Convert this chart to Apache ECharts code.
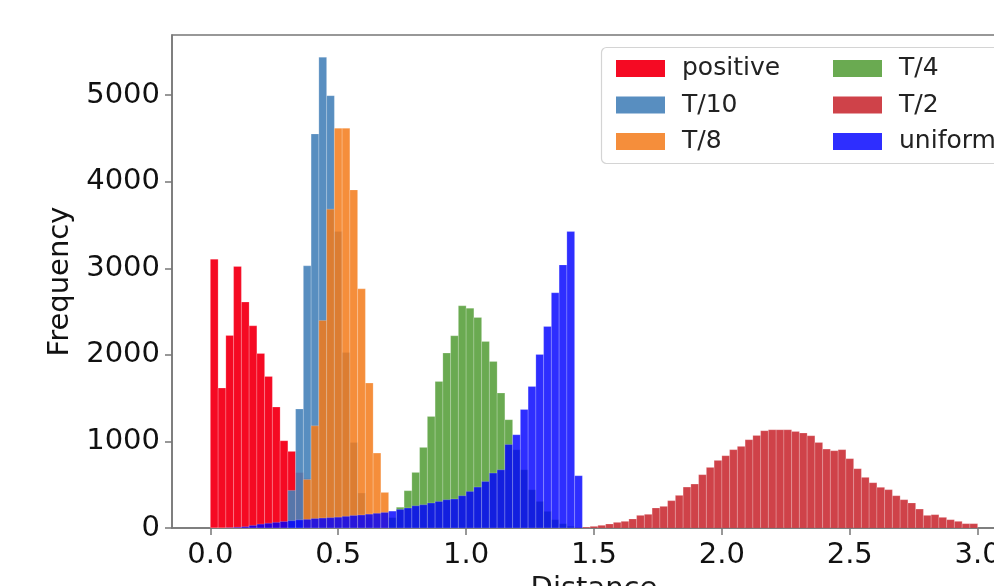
<!DOCTYPE html>
<html>
<head>
<meta charset="utf-8">
<script src="https://cdn.jsdelivr.net/npm/echarts@6/dist/echarts.min.js"></script>
<style>
html,body{margin:0;padding:0;background:#fff;}
#chart{width:994px;height:586px;}
</style>
</head>
<body>
<div id="chart"></div>
<script>
// Shared histogram bin width (99 bins over [0, 3])
const BIN_W = 3 / 99;

const seriesNames = ['positive', 'T/10', 'T/8', 'T/4', 'T/2', 'uniform'];

// first bin index of each series, and counts per bin
const positiveStart = 0;
const positive = [3106, 1617, 2224, 3021, 2610, 2336, 2016, 1751, 1397, 1008, 885, 640, 570];

const t10Start = 10;
const t10 = [434, 1375, 3029, 4553, 5439, 4995, 3425, 2028, 989, 404, 120];

const t8Start = 12;
const t8 = [560, 1181, 2397, 3683, 4619, 4619, 3906, 2763, 1674, 866, 411];

const t4Start = 23;
const t4 = [120, 240, 431, 642, 931, 1289, 1693, 2021, 2221, 2567, 2540, 2432, 2155, 1924, 1559, 1251, 904, 673, 442, 307, 192, 96, 50, 20];

const t2Start = 47;
const t2 = [5, 10, 19, 31, 46, 65, 77, 104, 146, 158, 231, 250, 316, 377, 473, 508, 616, 700, 781, 835, 905, 943, 1020, 1070, 1124, 1135, 1135, 1135, 1116, 1097, 1066, 989, 912, 893, 905, 801, 685, 585, 523, 470, 443, 373, 327, 289, 219, 146, 154, 123, 96, 77, 50, 50];

const uniformStart = 0;
const uniform = [0, 0, 3, 8, 15, 30, 45, 55, 65, 75, 85, 95, 100, 110, 115, 120, 125, 135, 145, 150, 160, 170, 180, 195, 215, 231, 257, 269, 289, 307, 327, 335, 373, 423, 473, 538, 635, 673, 965, 1077, 1370, 1635, 2005, 2328, 2718, 3040, 3425, 604];

const xTicks = [0, 0.5, 1.0, 1.5, 2.0, 2.5, 3.0];
const yTicks = [0, 1000, 2000, 3000, 4000, 5000];

const colors = {
  'positive': 'rgba(245,10,35,1)',
  'T/10': 'rgba(70,130,185,0.9)',
  'T/8': 'rgba(243,122,25,0.85)',
  'T/4': 'rgba(80,155,50,0.85)',
  'T/2': 'rgba(200,40,48,0.88)',
  'uniform': 'rgba(0,0,255,0.82)'
};

function toRows(start, counts) {
  return counts.map((c, i) => [(start + i) * BIN_W, (start + i + 1) * BIN_W, c]);
}

const seriesData = {
  'positive': toRows(positiveStart, positive),
  'T/10': toRows(t10Start, t10),
  'T/8': toRows(t8Start, t8),
  'T/4': toRows(t4Start, t4),
  'T/2': toRows(t2Start, t2),
  'uniform': toRows(uniformStart, uniform)
};

function renderBar(params, api) {
  const p0 = api.coord([api.value(0), api.value(2)]);
  const p1 = api.coord([api.value(1), 0]);
  return {
    type: 'rect',
    shape: { x: p0[0], y: p0[1], width: p1[0] - p0[0], height: p1[1] - p0[1] },
    style: {
      fill: api.visual('color'),
      stroke: 'rgba(255,255,255,0.28)',
      lineWidth: 0.7
    }
  };
}

const FONT = 'DejaVu Sans';
const chart = echarts.init(document.getElementById('chart'), null, { renderer: 'canvas' });

const legendCommon = {
  orient: 'vertical',
  icon: 'rect',
  itemWidth: 49,
  itemHeight: 17,
  itemGap: 11.5,
  top: 51,
  z: 5,
  textStyle: { fontFamily: FONT, fontSize: 25, color: '#222', padding: [0, 0, 0, 12] },
  selectedMode: false
};

chart.setOption({
  animation: false,
  backgroundColor: '#fff',
  grid: {
    left: 172, top: 35, width: 844, height: 493,
    containLabel: false, outerBoundsMode: 'none',
    show: true, borderColor: '#777', borderWidth: 1.5, backgroundColor: 'transparent'
  },
  graphic: [{
    type: 'rect', z: 4,
    shape: { x: 601.5, y: 47.5, width: 430, height: 116, r: 5 },
    style: { fill: 'rgba(255,255,255,0.8)', stroke: '#d4d4d4', lineWidth: 1.2 }
  }],
  legend: [
    Object.assign({}, legendCommon, { left: 611, data: ['positive', 'T/10', 'T/8'] }),
    Object.assign({}, legendCommon, { left: 828, data: ['T/4', 'T/2', 'uniform'] })
  ],
  xAxis: {
    type: 'value', min: -0.15, max: 3.15,
    name: 'Distance', nameLocation: 'middle', nameGap: 40,
    nameTextStyle: { fontFamily: FONT, fontSize: 29, color: '#1a1a1a' },
    axisLine: { show: true, onZero: false, lineStyle: { color: '#777', width: 1.5 } },
    axisTick: { show: true, customValues: xTicks, length: 7, lineStyle: { color: '#777', width: 1.5 } },
    axisLabel: { customValues: xTicks, margin: 13, fontFamily: FONT, fontSize: 29, color: '#111',
      formatter: v => v.toFixed(1) },
    splitLine: { show: false }
  },
  yAxis: {
    type: 'value', min: 0, max: 5696,
    name: 'Frequency', nameLocation: 'middle', nameGap: 93, nameRotate: 90,
    nameTextStyle: { fontFamily: FONT, fontSize: 29, color: '#111' },
    axisLine: { show: true, onZero: false, lineStyle: { color: '#777', width: 1.5 } },
    axisTick: { show: true, customValues: yTicks, length: 7, lineStyle: { color: '#777', width: 1.5 } },
    axisLabel: { customValues: yTicks, margin: 12, fontFamily: FONT, fontSize: 29, color: '#111',
      formatter: v => String(v) },
    splitLine: { show: false }
  },
  series: seriesNames.map((name, k) => ({
    name: name,
    type: 'custom',
    renderItem: renderBar,
    clip: true,
    z: 2,
    itemStyle: { color: colors[name] },
    encode: { x: [0, 1], y: 2 },
    data: seriesData[name]
  }))
});
</script>
</body>
</html>
